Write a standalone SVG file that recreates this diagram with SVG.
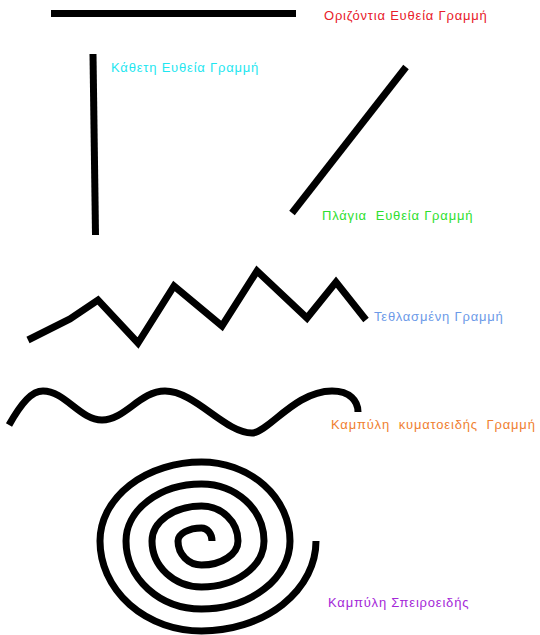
<svg xmlns="http://www.w3.org/2000/svg" width="540" height="635" viewBox="0 0 540 635">
<style>
.ln{fill:none;stroke:#000;stroke-width:7;stroke-linejoin:miter}
.lbl{font-family:"Liberation Sans",Arial,sans-serif;font-size:13px;letter-spacing:0.8px;white-space:pre}
</style>
<rect width="540" height="635" fill="#fff"/>
<g id="connectors">
<g id="horizontal"><line class="ln" x1="51" y1="13.5" x2="296" y2="13.5"/></g>
<g id="vertical"><line class="ln" x1="93" y1="54" x2="95.5" y2="235"/></g>
<g id="oblique"><line class="ln" x1="406" y1="67" x2="292" y2="213"/></g>
<g id="zigzag"><polyline class="ln" points="28,340 70,319 98,300 138,343 174,286 222,326 257,271 307,318 336,282 366,320"/></g>
<g id="wave"><path class="ln" d="M9,425 C22,402 32,391 43,391 C65,391 80,420 102,420 C125,420 140,391 165,391 C195,391 225,433 252,433 C268,433 295,391 332,391 C350,391 358,401 358,412"/></g>
<g id="spiral"><path class="ln" d="M212,541 A10.5,13 0 0 0 201.5,528 A23.5,13 0 0 0 178,541 A23.5,24 0 0 0 201.5,565 A36.5,24 0 0 0 238,541 A36.5,35 0 0 0 201.5,506 A49.5,35 0 0 0 152,541 A49.5,46 0 0 0 201.5,587 A62.5,46 0 0 0 264,541 A62.5,57 0 0 0 201.5,484 A75.5,57 0 0 0 126,541 A75.5,68 0 0 0 201.5,609 A88.5,68 0 0 0 290,541 A88.5,79 0 0 0 201.5,462 A101.5,79 0 0 0 100,541 A101.5,90 0 0 0 201.5,631 A114.5,90 0 0 0 316,541"/></g>
</g>
<g id="label-horizontal"><text class="lbl" x="324" y="20" fill="#e8202a">Οριζόντια Ευθεία Γραμμή</text></g>
<g id="label-vertical"><text class="lbl" x="111" y="72" fill="#1ee6f0">Κάθετη Ευθεία Γραμμή</text></g>
<g id="label-oblique"><text class="lbl" x="322" y="220" fill="#2ee02e">Πλάγια  Ευθεία Γραμμή</text></g>
<g id="label-zigzag"><text class="lbl" x="374" y="321" fill="#6c9ae8">Τεθλασμένη Γραμμή</text></g>
<g id="label-wave"><text class="lbl" x="331" y="429" fill="#f08030">Καμπύλη  κυματοειδής  Γραμμή</text></g>
<g id="label-spiral"><text class="lbl" x="328" y="607" fill="#a428d8">Καμπύλη Σπειροειδής</text></g>
</svg>
